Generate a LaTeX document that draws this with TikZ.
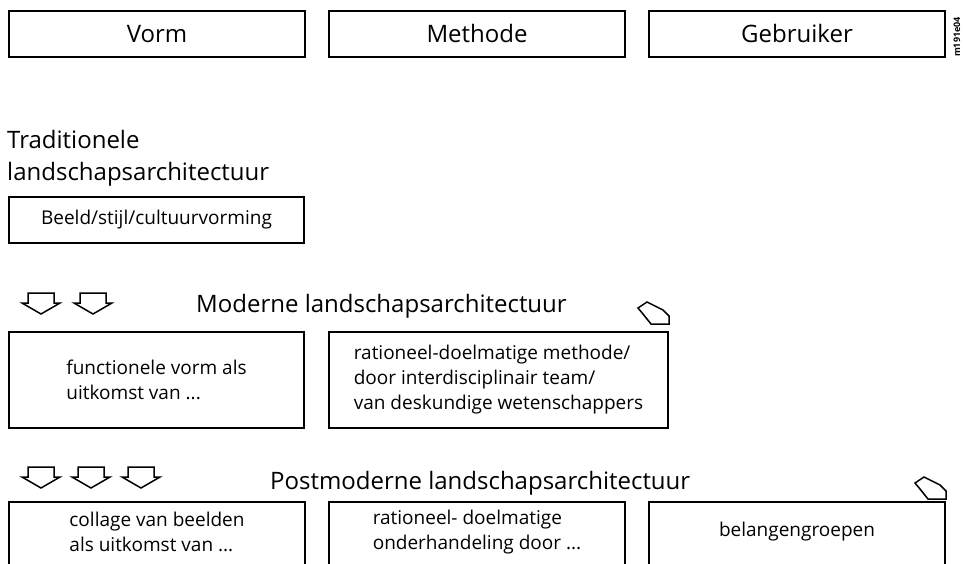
\documentclass[tikz,border=0pt]{standalone}
\usepackage{fontspec}
\setmainfont{Open Sans}
\usetikzlibrary{positioning}

\begin{document}
\begin{tikzpicture}[x=1pt,y=-1pt,
    rim/.style={line width=1.8pt},
    cell/.style={draw,rim,outer sep=0pt,inner sep=0pt,align=center,font=\fontsize{19}{25}\selectfont},
    topcell/.style={cell,minimum width=296pt,minimum height=46pt,font=\fontsize{24}{28}\selectfont},
    heading/.style={inner sep=0pt,align=left,font=\fontsize{24}{32}\selectfont},
    arrowline/.style={line width=1.5pt,line join=miter},
    downarrow/.pic={\draw[arrowline] (-13,0) -- (13,0) -- (13,10) -- (19,10) -- (0,21) -- (-19,10) -- (-13,10) -- cycle;},
    tiltarrow/.pic={\draw[arrowline] (0,0) -- (0,-8) -- (-6,-14) -- (-22,-22) -- (-31,-16) -- (-26,-10) -- (-18,0) -- cycle;}
  ]
  \useasboundingbox (0,0) rectangle (963,564);

  % column heads
  \node[topcell,anchor=north west] (vorm) at (9,11) {Vorm};
  \node[topcell,right=24pt of vorm] (methode) {Methode};
  \node[topcell,right=24pt of methode] (gebruiker) {Gebruiker};
  \node[rotate=90,inner sep=0pt,font=\fontsize{9}{10}\selectfont\bfseries] (code) at (957,37) {m191e04};

  % traditionele
  \node[heading,anchor=north west] (trad) at (7,130) {Traditionele\\landschapsarchitectuur};
  \node[cell,anchor=north west,minimum width=295pt,minimum height=46pt] (beeld) at (9,197) {Beeld/stijl/cultuurvorming};

  % moderne
  \foreach \x in {41,93} \pic at (\x,293) {downarrow};
  \node[heading,anchor=base west] (modern) at (196,312) {Moderne landschapsarchitectuur};
  \pic at (669,324) {tiltarrow};
  \node[cell,anchor=north west,minimum width=295pt,minimum height=96pt,align=left] (mvorm) at (9,332) {functionele vorm als\\uitkomst van ...};
  \node[cell,right=25pt of mvorm,minimum width=339pt,minimum height=96pt,align=left] (mmethode) {rationeel-doelmatige methode/\\door interdisciplinair team/\\van deskundige wetenschappers};

  % postmoderne
  \foreach \x in {41,91,141} \pic at (\x,467) {downarrow};
  \node[heading,anchor=base west] (postmodern) at (270,489) {Postmoderne landschapsarchitectuur};
  \pic at (946,499) {tiltarrow};
  \node[cell,draw=none,anchor=north west,minimum width=296pt,minimum height=60pt,align=left] (pvorm) at (9,502) {collage van beelden\\als uitkomst van ...};
  \node[cell,draw=none,right=24pt of pvorm,minimum width=296pt,minimum height=60pt,align=left] (pmethode) {rationeel- doelmatige\\onderhandeling door ...};
  \node[cell,draw=none,right=24pt of pmethode,minimum width=296pt,minimum height=60pt] (pgebruiker) {belangengroepen};
  \foreach \n in {pvorm,pmethode,pgebruiker}
    \draw[rim] ([yshift=-20pt]\n.south west) |- (\n.north east) -- ([yshift=-20pt]\n.south east);
\end{tikzpicture}
\end{document}
